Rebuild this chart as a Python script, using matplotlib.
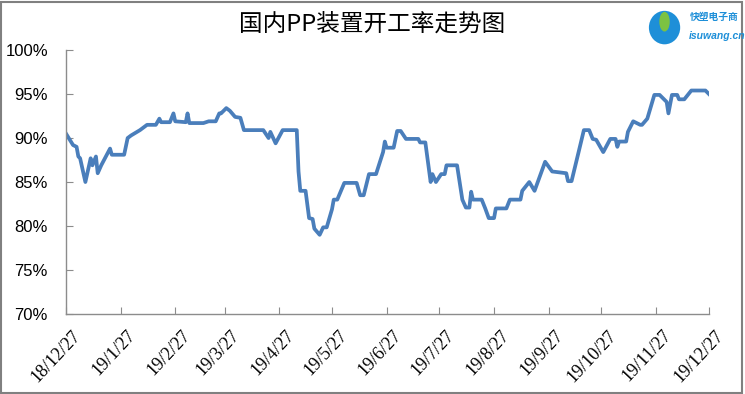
import matplotlib
matplotlib.use('Agg')
import matplotlib.pyplot as plt
import matplotlib.transforms as mtrans
from matplotlib.patches import Rectangle, Ellipse
from matplotlib.ticker import FuncFormatter, MultipleLocator, NullFormatter
import numpy as np

plt.rcParams['font.family'] = ['Liberation Sans', 'Noto Sans CJK SC', 'DejaVu Sans']

title = '国内PP装置开工率走势图'

# percent
dates = ['2018-12-27', '2018-12-31', '2019-01-02', '2019-01-03', '2019-01-04', '2019-01-07',
         '2019-01-10', '2019-01-11', '2019-01-13', '2019-01-14', '2019-01-16', '2019-01-21',
         '2019-01-22', '2019-01-29', '2019-01-31', '2019-02-02', '2019-02-07', '2019-02-11',
         '2019-02-16', '2019-02-18', '2019-02-19', '2019-02-24', '2019-02-26', '2019-02-27',
         '2019-03-05', '2019-03-06', '2019-03-07', '2019-03-15', '2019-03-18', '2019-03-22',
         '2019-03-24', '2019-03-25', '2019-03-28', '2019-03-30', '2019-04-02', '2019-04-05',
         '2019-04-07', '2019-04-18', '2019-04-21', '2019-04-22', '2019-04-25', '2019-04-29',
         '2019-05-07', '2019-05-08', '2019-05-09', '2019-05-12', '2019-05-14', '2019-05-16',
         '2019-05-17', '2019-05-20', '2019-05-22', '2019-05-24', '2019-05-27', '2019-05-28',
         '2019-05-30', '2019-06-03', '2019-06-10', '2019-06-12', '2019-06-14', '2019-06-17',
         '2019-06-21', '2019-06-25', '2019-06-26', '2019-06-27', '2019-07-01', '2019-07-03',
         '2019-07-05', '2019-07-08', '2019-07-15', '2019-07-16', '2019-07-19', '2019-07-22',
         '2019-07-23', '2019-07-25', '2019-07-28', '2019-07-30', '2019-07-31', '2019-08-06',
         '2019-08-09', '2019-08-11', '2019-08-13', '2019-08-14', '2019-08-15', '2019-08-20',
         '2019-08-22', '2019-08-24', '2019-08-27', '2019-08-28', '2019-09-03', '2019-09-05',
         '2019-09-11', '2019-09-12', '2019-09-16', '2019-09-19', '2019-09-25', '2019-09-29',
         '2019-10-07', '2019-10-08', '2019-10-10', '2019-10-14', '2019-10-17', '2019-10-20',
         '2019-10-22', '2019-10-24', '2019-10-28', '2019-11-01', '2019-11-04', '2019-11-05',
         '2019-11-06', '2019-11-10', '2019-11-11', '2019-11-14', '2019-11-18', '2019-11-19',
         '2019-11-22', '2019-11-26', '2019-11-29', '2019-12-03', '2019-12-04', '2019-12-06',
         '2019-12-09', '2019-12-10', '2019-12-13', '2019-12-17', '2019-12-25', '2019-12-27']
rate = [90.5, 89.2, 89.0, 87.9, 87.7, 85.0,
        87.7, 86.9, 87.9, 86.0, 86.9, 88.8,
        88.1, 88.1, 90.0, 90.3, 90.9, 91.5,
        91.5, 92.2, 91.8, 91.8, 92.8, 91.9,
        91.8, 92.8, 91.7, 91.7, 91.9, 91.9,
        92.8, 92.8, 93.4, 93.1, 92.4, 92.3,
        90.9, 90.9, 90.0, 90.7, 89.4, 90.9,
        90.9, 86.2, 84.0, 84.0, 80.9, 80.8,
        79.7, 79.0, 79.85, 79.85, 81.9, 83.0,
        83.0, 84.9, 84.9, 83.5, 83.5, 85.9,
        85.9, 88.4, 89.6, 88.9, 88.9, 90.8,
        90.8, 89.9, 89.9, 89.5, 89.5, 85.0,
        85.9, 85.0, 85.9, 85.9, 86.9, 86.9,
        83.0, 82.1, 82.1, 83.9, 83.0, 83.0,
        82.0, 80.9, 80.9, 82.0, 82.0, 83.0,
        83.0, 84.0, 85.0, 84.0, 87.3, 86.2,
        86.0, 85.1, 85.1, 88.4, 90.9, 90.9,
        89.9, 89.8, 88.4, 89.9, 89.9, 89.0,
        89.6, 89.6, 90.7, 91.9, 91.5, 91.5,
        92.2, 94.9, 94.9, 94.1, 92.8, 94.9,
        94.9, 94.4, 94.4, 95.4, 95.4, 95.0]

tick_dates = ['2018-12-27', '2019-01-27', '2019-02-27', '2019-03-27', '2019-04-27',
              '2019-05-27', '2019-06-27', '2019-07-27', '2019-08-27', '2019-09-27',
              '2019-10-27', '2019-11-27', '2019-12-27']
tick_labels = ['18/12/27', '19/1/27', '19/2/27', '19/3/27', '19/4/27', '19/5/27', '19/6/27',
               '19/7/27', '19/8/27', '19/9/27', '19/10/27', '19/11/27', '19/12/27']

x = np.array(dates, dtype='datetime64[D]')
y = np.array(rate)
xt = np.array(tick_dates, dtype='datetime64[D]')

fig = plt.figure(figsize=(7.45, 3.94), dpi=100)
ax = fig.add_axes([0.0886, 0.203, 0.863, 0.670])

ax.plot(x, y, color='#4A7EBB', lw=2.7, solid_joinstyle='round')

ax.set_ylim(70, 100)
ax.yaxis.set_major_locator(MultipleLocator(5))
ax.yaxis.set_major_formatter(FuncFormatter(lambda v, p: '%d%%' % v))
ax.set_xlim(xt[0], xt[-1])
ax.set_xticks(xt)
ax.xaxis.set_major_formatter(NullFormatter())

for s in ['top', 'right']:
    ax.spines[s].set_visible(False)
for s in ['left', 'bottom']:
    ax.spines[s].set_color('#8c8c8c')
    ax.spines[s].set_linewidth(1.0)
ax.tick_params(axis='both', direction='in', length=5, color='#8c8c8c', width=0.8)
ax.tick_params(axis='y', labelsize=12, pad=13)

# rotated date labels, top-right corner just right of / below each tick
off = mtrans.ScaledTranslation(6 / 100, -13 / 100, fig.dpi_scale_trans)
for d, lab in zip(xt, tick_labels):
    ax.text(d, 0, lab, transform=ax.get_xaxis_transform() + off, rotation=47,
            rotation_mode='anchor', ha='right', va='top', fontsize=13,
            family='Liberation Serif')

fig.text(0.5, 0.938, title, ha='center', va='center', fontsize=17,
         family=['Noto Sans CJK SC', 'DejaVu Sans'])

# logo, top right
fig.patches.append(Ellipse((0.892, 0.93), 0.042, 0.085, transform=fig.transFigure,
                           facecolor='#1e8fd8', edgecolor='none'))
fig.patches.append(Ellipse((0.892, 0.945), 0.014, 0.05, transform=fig.transFigure,
                           facecolor='#7cc242', edgecolor='none'))
fig.text(0.926, 0.958, '快塑电子商', fontsize=7, color='#1e8fd8', fontweight='bold',
         family=['Noto Sans CJK SC', 'DejaVu Sans'], va='center')
fig.text(0.924, 0.908, 'isuwang.cn', fontsize=7.5, color='#1e8fd8', fontweight='bold',
         style='italic', va='center')

fig.patches.append(Rectangle((0.002, 0.003), 0.994, 0.993, transform=fig.transFigure,
                             fill=False, edgecolor='#808080', lw=1.5))

fig.savefig('out.png', dpi=100)
